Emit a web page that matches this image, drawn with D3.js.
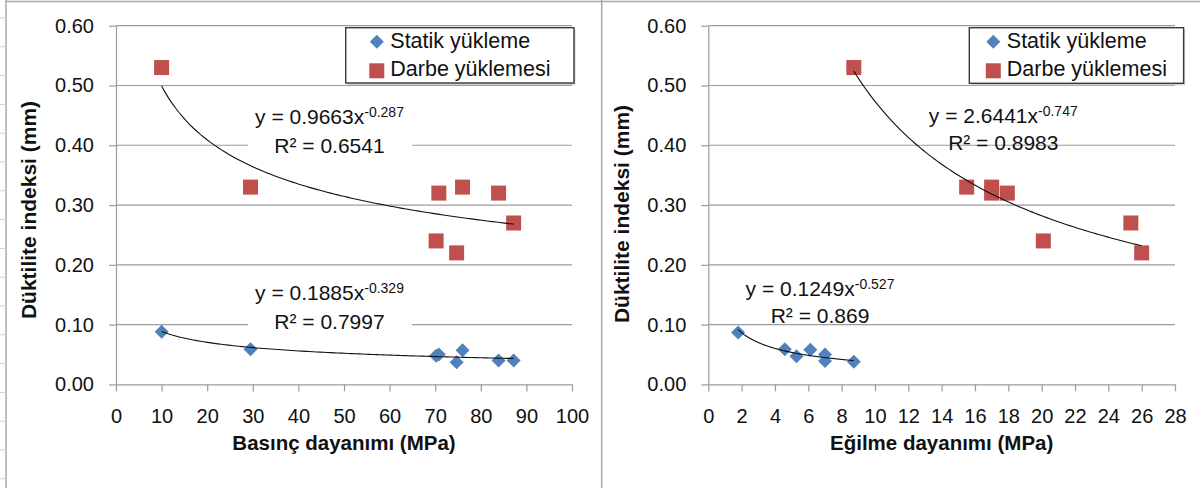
<!DOCTYPE html>
<html>
<head>
<meta charset="utf-8">
<script src="https://cdn.jsdelivr.net/npm/d3@7"></script>
<style>
  html, body { margin: 0; padding: 0; background: #fff; }
  svg { display: block; }
  text { font-family: "Liberation Sans", Arial, sans-serif; fill: #111; }
</style>
</head>
<body>
<svg id="chart" width="1200" height="488"></svg>
<script>
// ---- Data: compressive strength panel (Basınç dayanımı) ----
const basincStatikX = [10, 29.5, 70.2, 70.8, 74.7, 76.0, 83.9, 87.2];
const basincStatikY = [0.088, 0.059, 0.048, 0.050, 0.037, 0.057, 0.040, 0.040];
const basincDarbeX  = [10, 29.5, 70.2, 70.8, 74.7, 76.0, 83.9, 87.2];
const basincDarbeY  = [0.53, 0.33, 0.24, 0.32, 0.22, 0.33, 0.32, 0.27];

// ---- Data: flexural strength panel (Eğilme dayanımı) ----
const egilmeStatikX = [1.79, 4.59, 5.29, 6.12, 7.0, 7.0, 8.73];
const egilmeStatikY = [0.087, 0.059, 0.047, 0.058, 0.050, 0.039, 0.038];
const egilmeDarbeX  = [8.73, 15.5, 17.0, 17.0, 17.94, 20.1, 25.35, 26.0];
const egilmeDarbeY  = [0.53, 0.33, 0.33, 0.32, 0.32, 0.24, 0.27, 0.22];

// ---- Power trend lines y = a·x^b ----
const basincStatikFit = { a: 0.1885, b: -0.329, r2: "0.7997" };
const basincDarbeFit  = { a: 0.9663, b: -0.287, r2: "0.6541" };
const egilmeStatikFit = { a: 0.1249, b: -0.527, r2: "0.869" };
const egilmeDarbeFit  = { a: 2.6441, b: -0.747, r2: "0.8983" };

// ---- Axes ticks and labels ----
const yTicks = [0, 0.1, 0.2, 0.3, 0.4, 0.5, 0.6];
const basincXTicks = [0, 10, 20, 30, 40, 50, 60, 70, 80, 90, 100];
const egilmeXTicks = [0, 2, 4, 6, 8, 10, 12, 14, 16, 18, 20, 22, 24, 26, 28];
const seriesNames = ["Statik yükleme", "Darbe yüklemesi"];
const yTitle = "Düktilite indeksi (mm)";
const basincTitle = "Basınç dayanımı (MPa)";
const egilmeTitle = "Eğilme dayanımı (MPa)";

const BLUE = "#4F81BD", RED = "#C0504D", GRID = "#9c9c9c";
const svg = d3.select("#chart");
svg.append("rect").attr("width", 1200).attr("height", 488).attr("fill", "#fff");

// Sheet frame lines around the two chart objects
const frame = svg.append("g").attr("stroke", "#a8a8a8").attr("fill", "none");
frame.append("line").attr("x1", 6).attr("x2", 6).attr("y1", 0).attr("y2", 488).attr("stroke-width", 1.5);
frame.append("line").attr("x1", 6).attr("x2", 1200).attr("y1", 1.5).attr("y2", 1.5).attr("stroke-width", 1.5);
frame.append("line").attr("x1", 601.7).attr("x2", 601.7).attr("y1", 0).attr("y2", 488).attr("stroke-width", 1.5);
d3.range(17).forEach(k => {
  frame.append("line").attr("x1", 0).attr("x2", 6)
    .attr("y1", 18 + 28.8 * k).attr("y2", 18 + 28.8 * k).attr("stroke", "#d0d0d0");
});
[51.7, 553.3, 651].forEach(cx => {
  frame.append("line").attr("x1", cx).attr("x2", cx).attr("y1", 0).attr("y2", 1.5)
    .attr("stroke", "#d0d0d0");
});

function diamond(g, x, y, r, color) {
  g.append("path")
    .attr("d", `M${x},${y - r}L${x + r},${y}L${x},${y + r}L${x - r},${y}Z`)
    .attr("fill", color);
}
function square(g, x, y, s, color) {
  g.append("rect").attr("x", x - s / 2).attr("y", y - s / 2)
    .attr("width", s).attr("height", s).attr("fill", color);
}

function drawPanel(p) {
  const g = svg.append("g");
  const x = d3.scaleLinear().domain(p.xDomain).range(p.xRange);
  const y = d3.scaleLinear().domain([0, 0.6]).range([384.4, 25.7]);

  // gridlines
  g.append("g").selectAll("line").data(yTicks.filter(d => d > 0)).join("line")
    .attr("x1", p.xRange[0]).attr("x2", p.xRange[1])
    .attr("y1", d => y(d)).attr("y2", d => y(d))
    .attr("stroke", GRID).attr("stroke-width", 1.2);

  // axes
  const yAxis = g.append("g").attr("transform", `translate(${p.xRange[0]},0)`)
    .call(d3.axisLeft(y).tickValues(yTicks).tickFormat(d3.format(".2f"))
      .tickSize(7).tickSizeOuter(0).tickPadding(15));
  const xAxis = g.append("g").attr("transform", `translate(0,${y(0)})`)
    .call(d3.axisBottom(x).tickValues(p.xTicks).tickFormat(d3.format("d"))
      .tickSize(7).tickSizeOuter(0).tickPadding(17));
  [yAxis, xAxis].forEach(a => {
    a.select(".domain").attr("stroke", GRID).attr("stroke-width", 1.2);
    a.selectAll(".tick line").attr("stroke", GRID).attr("stroke-width", 1.2);
    a.selectAll(".tick text").attr("font-size", 20).attr("fill", "#111")
      .attr("font-family", '"Liberation Sans", Arial, sans-serif');
  });

  // axis titles
  g.append("text").attr("x", (p.xRange[0] + p.xRange[1]) / 2).attr("y", 450)
    .attr("text-anchor", "middle").attr("font-size", 20.5).attr("font-weight", "bold")
    .text(p.xTitle);
  g.append("text")
    .attr("transform", `translate(${p.yTitleX},${p.yTitleY}) rotate(-90)`)
    .attr("text-anchor", "middle").attr("font-size", 21).attr("font-weight", "bold")
    .text(yTitle);

  // markers
  const marks = g.append("g");
  p.darbeX.forEach((v, i) => square(marks, x(v), y(p.darbeY[i]), 15, RED));
  p.statikX.forEach((v, i) => diamond(marks, x(v), y(p.statikY[i]), 7, BLUE));

  // trend lines
  const line = d3.line().x(d => x(d[0])).y(d => y(d[1]));
  [[p.statikFit, p.statikX], [p.darbeFit, p.darbeX]].forEach(([f, xs]) => {
    const [lo, hi] = d3.extent(xs);
    const pts = d3.range(0, 101).map(i => {
      const xv = lo + (hi - lo) * i / 100;
      return [xv, f.a * Math.pow(xv, f.b)];
    });
    g.append("path").datum(pts).attr("d", line)
      .attr("fill", "none").attr("stroke", "#111").attr("stroke-width", 1.1);
  });

  // equation labels
  [[p.statikFit, p.statikLabel], [p.darbeFit, p.darbeLabel]].forEach(([f, L]) => {
    if (L.box) {
      g.append("rect").attr("x", L.box[0]).attr("y", L.y1 - 24)
        .attr("width", L.box[1] - L.box[0]).attr("height", L.y2 - L.y1 + 32)
        .attr("fill", "#fff");
    }
    const t1 = g.append("text").attr("x", L.cx).attr("y", L.y1)
      .attr("text-anchor", "middle").attr("font-size", 21);
    t1.append("tspan").text(`y = ${f.a.toFixed(4)}x`);
    t1.append("tspan").attr("dy", -7).attr("font-size", 14).text(f.b.toFixed(3));
    g.append("text").attr("x", L.cx).attr("y", L.y2)
      .attr("text-anchor", "middle").attr("font-size", 21)
      .text(`R² = ${f.r2}`);
  });

  // legend
  const lg = svg.append("g");
  const [lx, ly, lw, lh] = p.legend;
  lg.append("rect").attr("x", lx + 1.5).attr("y", ly + 2).attr("width", lw).attr("height", lh)
    .attr("fill", "#d2d2d2");
  lg.append("rect").attr("x", lx).attr("y", ly).attr("width", lw).attr("height", lh)
    .attr("fill", "#fff").attr("stroke", "#3a3a3a").attr("stroke-width", 1.4);
  diamond(lg, p.legendMarkX, 41.7, 7, BLUE);
  square(lg, p.legendMarkX, 70.8, 15, RED);
  lg.append("text").attr("x", p.legendMarkX + 13.5).attr("y", 47.8).attr("font-size", 21.5)
    .text(seriesNames[0]);
  lg.append("text").attr("x", p.legendMarkX + 13.5).attr("y", 75.7).attr("font-size", 21.5)
    .text(seriesNames[1]);
}

drawPanel({
  xDomain: [0, 100], xRange: [116, 572], xTicks: basincXTicks, xTitle: basincTitle,
  yTitleX: 36, yTitleY: 210,
  statikX: basincStatikX, statikY: basincStatikY, darbeX: basincDarbeX, darbeY: basincDarbeY,
  statikFit: basincStatikFit, darbeFit: basincDarbeFit,
  darbeLabel: { cx: 329.5, y1: 124.3, y2: 153.3, box: [248, 412] },
  statikLabel: { cx: 329.5, y1: 300, y2: 329, box: [248, 412] },
  legend: [345.7, 27.7, 228.3, 55.3], legendMarkX: 376.8
});

drawPanel({
  xDomain: [0, 28], xRange: [708.3, 1175], xTicks: egilmeXTicks, xTitle: egilmeTitle,
  yTitleX: 628.5, yTitleY: 214,
  statikX: egilmeStatikX, statikY: egilmeStatikY, darbeX: egilmeDarbeX, darbeY: egilmeDarbeY,
  statikFit: egilmeStatikFit, darbeFit: egilmeDarbeFit,
  darbeLabel: { cx: 1003.3, y1: 122.7, y2: 149.5, box: null },
  statikLabel: { cx: 820, y1: 296, y2: 323, box: null },
  legend: [969.3, 27.7, 214.3, 55.6], legendMarkX: 993.3
});
</script>
</body>
</html>
